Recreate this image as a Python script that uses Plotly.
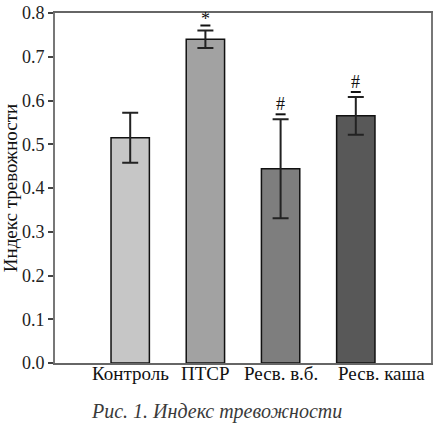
import plotly.graph_objects as go

# data
groups = ["Контроль", "ПТСР", "Ресв. в.б.", "Ресв. каша"]
positions = [1, 2, 3, 4]
means = [0.515, 0.740, 0.444, 0.565]
errors = [0.057, 0.020, 0.113, 0.043]
marks = ["", "*", "#", "#"]
bar_colors = ["#c6c6c6", "#a2a2a2", "#7e7e7e", "#585858"]

serif = "Liberation Serif"

fig = go.Figure()
fig.add_trace(go.Bar(
    x=positions,
    y=means,
    width=0.51,
    marker=dict(color=bar_colors, line=dict(color="#111111", width=1.5)),
    error_y=dict(type="data", array=errors, visible=True,
                 color="#222222", thickness=2, width=8),
    showlegend=False,
))

# significance marks above the error bars, each with a short dash under it
mark_lift = {"*": 12, "#": 15}
for xp, m, e, mk in zip(positions, means, errors, marks):
    if not mk:
        continue
    fig.add_shape(type="line", xref="x", yref="y",
                  xsizemode="pixel", xanchor=xp, x0=-5, x1=5,
                  ysizemode="pixel", yanchor=m + e, y0=5, y1=5,
                  line=dict(color="#111111", width=2))
    fig.add_annotation(x=xp, y=m + e, text=mk, showarrow=False,
                       yanchor="middle", yshift=mark_lift[mk],
                       font=dict(family=serif, size=18, color="#111111"))

# category labels (last one sits a bit to the right in the original)
label_shift = [0, 0, 0, 26]
for xp, g, sh in zip(positions, groups, label_shift):
    fig.add_annotation(x=xp, y=0, yref="y", text=g, showarrow=False,
                       yanchor="top", yshift=2, xshift=sh,
                       font=dict(family=serif, size=19, color="#111111"))

fig.add_annotation(x=0.43, y=-0.1, xref="paper", yref="paper",
                   text="<i>Рис. 1. Индекс тревожности</i>", showarrow=False,
                   yanchor="top",
                   font=dict(family=serif, size=20, color="#3a3a3a"))

fig.update_xaxes(range=[0, 5], tickvals=positions, showticklabels=False,
                 showgrid=False, zeroline=False, ticks="",
                 showline=True, linecolor="#666666", linewidth=2, mirror=True)
fig.update_yaxes(range=[0, 0.8], dtick=0.1, tickformat=".1f",
                 showgrid=False, zeroline=False,
                 ticks="outside", ticklen=5, tickwidth=1.5, tickcolor="#444444",
                 showline=True, linecolor="#777777", linewidth=2, mirror=True,
                 tickfont=dict(family=serif, size=18, color="#222222"),
                 title=dict(text="Индекс тревожности", standoff=6,
                            font=dict(family=serif, size=19, color="#111111")))

fig.update_layout(
    width=436, height=423,
    margin=dict(l=55, r=3, t=10, b=60),
    plot_bgcolor="white", paper_bgcolor="white",
)

# drop the default page margin so the figure sits at the window corner
fig.write_html("out.html",
               config={"displayModeBar": False},
               post_script="document.body.style.margin='0';"
                           "document.body.style.overflow='hidden';")
